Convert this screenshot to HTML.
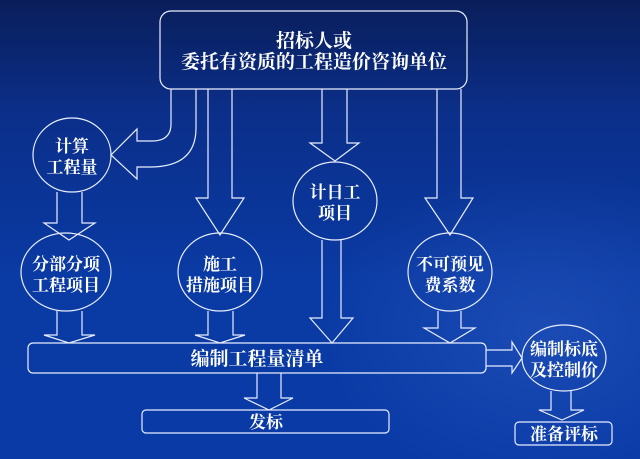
<!DOCTYPE html>
<html><head><meta charset="utf-8"><style>
html,body{margin:0;padding:0;}
body{width:640px;height:459px;overflow:hidden;background:linear-gradient(180deg,#0a1e5a 0%,#0b2f8a 25%,#0a3aa3 60%,#0a3aa6 100%);}
svg{display:block;}
text{font-family:"Liberation Serif","Noto Serif CJK SC",serif;font-weight:bold;fill:#fff;text-anchor:middle;}
</style></head><body>
<svg width="640" height="459" viewBox="0 0 640 459">
<defs><radialGradient id="sw" cx="0.85" cy="0.72" r="0.35"><stop offset="0" stop-color="#3a6ad0" stop-opacity="0.35"/><stop offset="1" stop-color="#3a6ad0" stop-opacity="0"/></radialGradient></defs>
<rect x="0" y="0" width="640" height="459" fill="url(#sw)"/>
<g fill="none" stroke="#e8eeff" stroke-width="1.2">
<rect x="160" y="11" width="307" height="78" rx="11"/>
<path d="M171,89 V124 Q171,141 152,141 H137 V129 L111,155 L137,179 V167 H150 Q196,167 196,128 V89"/>
<path d="M208,89 V198 H196 L220,235 L244,198 H232 V89"/>
<path d="M322,89 V143 H310 L335,161 L359,143 H347 V89"/>
<path d="M437,89 V198 H425 L450,235 L473,198 H461 V89"/>
<ellipse cx="72" cy="155" rx="39" ry="37"/>
<path d="M57,192 V223 H44 L69,240 L95,223 H82 V192"/>
<ellipse cx="66" cy="272" rx="45" ry="39"/>
<ellipse cx="220" cy="272" rx="42" ry="39"/>
<ellipse cx="335" cy="201" rx="42" ry="39"/>
<ellipse cx="450" cy="272" rx="42" ry="39"/>
<path d="M57,311 V335 H44 L69,343 L95,335 H82 V311"/>
<path d="M208,311 V335 H195 L220,343 L245,335 H233 V311"/>
<path d="M322,240 V318 H310 L332,343 L353,318 H341 V240"/>
<path d="M438,311 V328 H424 L450,343 L475,328 H461 V311"/>
<rect x="28" y="343" width="458" height="30" rx="5"/>
<path d="M486,350 H512 V342 L522,358 L512,373 V366 H486"/>
<ellipse cx="564" cy="358" rx="42" ry="33"/>
<path d="M551,391 V410 H539 L562,420 L584,410 H571 V391"/>
<rect x="515" y="422" width="97" height="23" rx="4"/>
<path d="M257,373 V398 H244 L269,410 L293,398 H281 V373"/>
<rect x="142" y="410" width="247" height="23" rx="4"/>
</g>
<g font-size="19">
<text x="314" y="47">招标人或</text>
<text x="314" y="68">委托有资质的工程造价咨询单位</text>
</g>
<g font-size="17">
<text x="72" y="152">计算</text><text x="72" y="173">工程量</text>
<text x="66" y="270">分部分项</text><text x="66" y="291">工程项目</text>
<text x="220" y="270">施工</text><text x="220" y="291">措施项目</text>
<text x="335" y="198">计日工</text><text x="335" y="219">项目</text>
<text x="450" y="270">不可预见</text><text x="450" y="291">费系数</text>
<text x="564" y="355">编制标底</text><text x="564" y="376">及控制价</text>
<text x="564" y="440">准备评标</text>
<text x="266" y="428">发标</text>
</g>
<text x="257" y="365" font-size="19">编制工程量清单</text>
</svg>
</body></html>
